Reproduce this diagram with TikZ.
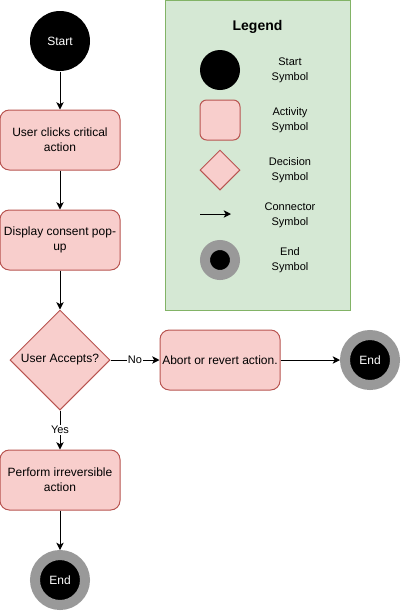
\documentclass[tikz,border=0pt]{standalone}
\usepackage{fontspec}
\setmainfont{Liberation Sans}
\usetikzlibrary{arrows.meta,shapes.geometric}
\definecolor{actfill}{HTML}{F8CECC}
\definecolor{actline}{HTML}{B85450}
\definecolor{legfill}{HTML}{D5E8D4}
\definecolor{legline}{HTML}{82B366}
\definecolor{ringgray}{HTML}{999999}

\begin{document}
\begin{tikzpicture}[x=.75pt,y=-.75pt,line width=.75pt,font=\fontsize{9}{11.25}\selectfont,
  startnode/.style={circle,fill=black,text=white,inner sep=0pt},
  endnode/.style={circle,fill=black,draw=ringgray,text=white,inner sep=0pt,line width=7.5pt},
  act/.style={draw=actline,fill=actfill,rounded corners=7pt,minimum width=90pt,minimum height=45pt,align=center,inner sep=0pt},
  decision/.style={diamond,draw=actline,fill=actfill,aspect=1,minimum size=75pt,inner sep=0pt},
  legtext/.style={font=\fontsize{8.25}{11.25}\selectfont,align=center},
  flow/.style={-{Stealth[length=5.5pt,width=5.5pt,inset=1.5pt]}},
  lbl/.style={fill=white,inner sep=1pt,font=\fontsize{8.25}{10}\selectfont}]
\useasboundingbox (0,0) rectangle (401,611);
\node[draw=legline,fill=legfill,minimum width=138.75pt,minimum height=232.5pt,inner sep=0pt] (legend) at (257.5,155) {};
\node[font=\fontsize{10.5}{12}\bfseries] (legtitle) at (257.5,27) {Legend};
\node[startnode,minimum size=30pt] (legstart) at (220,70) {};
\node[legtext] (legstartl) at (290,70) {Start\\Symbol};
\node[draw=actline,fill=actfill,rounded corners=5pt,minimum size=30pt,inner sep=0pt] (legact) at (220,120) {};
\node[legtext] (legactl) at (290,120) {Activity\\Symbol};
\node[decision,minimum size=30pt] (legdec) at (220,170) {};
\node[legtext] (legdecl) at (290,170) {Decision\\Symbol};
\coordinate (legarra) at (200,214);
\coordinate (legarrb) at (231,214);
\draw[flow] (legarra) -- (legarrb);
\node[legtext] (legconl) at (290,215) {Connector\\Symbol};
\node[endnode,minimum size=22.5pt] (legend2) at (220,260) {};
\node[legtext] (legendl) at (290,260) {End\\Symbol};
\node[startnode,minimum size=45pt] (start) at (60,41) {Start};
\node[act] (click) at (60,140) {User clicks critical\\action};
\node[act] (popup) at (60,240) {Display consent pop-\\up};
\node[decision] (accept) at (60,360) {User Accepts?};
\node[act] (abort) at (220,360) {Abort or revert action.};
\node[endnode,minimum size=37.5pt] (endright) at (370,360) {End};
\node[act] (perform) at (60,480) {Perform irreversible\\action};
\node[endnode,minimum size=37.5pt] (endbottom) at (60,580) {End};
\draw[flow] (start) -- (click);
\draw[flow] (click) -- (popup);
\draw[flow] (popup) -- (accept);
\draw[flow] (accept) -- node[lbl,pos=.5] {No} (abort);
\draw[flow] (abort) -- (endright);
\draw[flow] (accept) -- node[lbl,pos=.5] {Yes} (perform);
\draw[flow] (perform) -- (endbottom);
\end{tikzpicture}
\end{document}
